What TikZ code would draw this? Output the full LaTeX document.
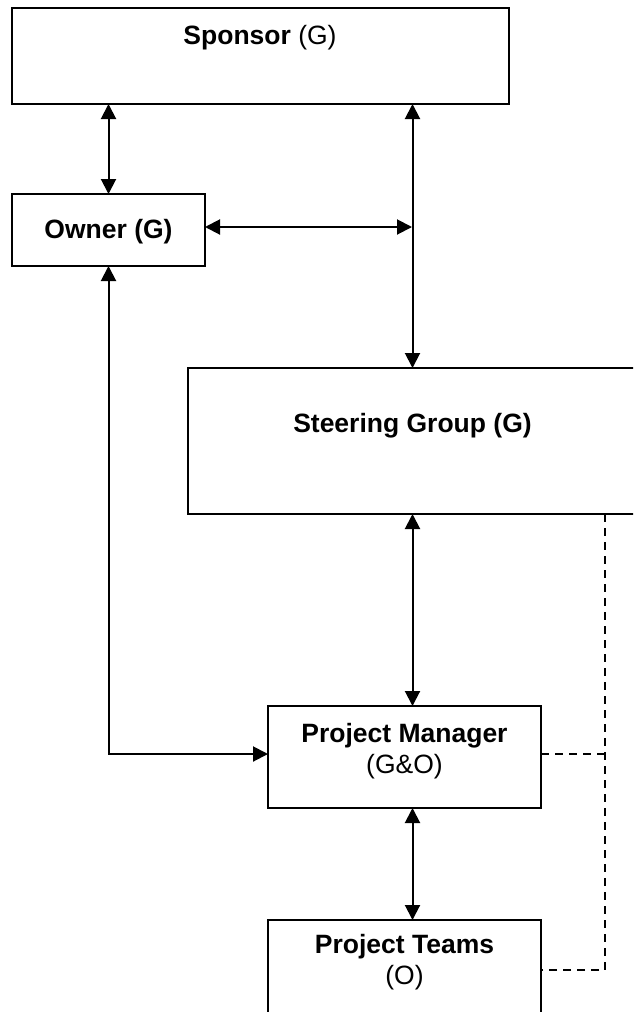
\documentclass[tikz,border=0pt]{standalone}
\usepackage{fontspec}
\setmainfont{Liberation Sans}
\usetikzlibrary{arrows.meta}
\begin{document}
\begin{tikzpicture}[x=1pt,y=-1pt,
  box/.style={draw, line width=2.2pt, inner sep=0pt, outer sep=0pt, anchor=north west},
  lbl/.style={font=\fontsize{26.5}{31}\selectfont, anchor=base, inner sep=0pt},
  tip/.tip={Triangle[length=15pt,width=15pt]},
  dbl/.style={line width=2pt, tip-tip},
  dsh/.style={line width=1.7pt, dash pattern=on 8pt off 6pt}]
\useasboundingbox (0,0) rectangle (633,1012);
\clip (0,0) rectangle (633,1012);

% boxes
\node[box, minimum width=497pt, minimum height=96pt] (sp) at (12,8) {};
\node[box, minimum width=193pt, minimum height=72pt] (ow) at (12,194) {};
\node[box, minimum width=470pt, minimum height=146pt] (sg) at (188,368) {};
\node[box, minimum width=273pt, minimum height=102pt] (pm) at (268,706) {};
\node[box, minimum width=273pt, minimum height=120pt] (pt) at (268,920) {};

% texts
\node[lbl] (spT) at (260,44) {\textbf{Sponsor} (G)};
\node[lbl] (owT) at (108.5,238) {\textbf{Owner (G)}};
\node[lbl] (sgT) at (412.5,432) {\textbf{Steering Group (G)}};
\node[lbl] (pmT1) at (404.5,742) {\textbf{Project Manager}};
\node[lbl] (pmT2) at (404.5,773) {(G\&O)};
\node[lbl] (ptT1) at (404.5,953) {\textbf{Project Teams}};
\node[lbl] (ptT2) at (404.5,984) {(O)};

% connector points
\coordinate (vx) at (412,227);
\coordinate (pmL) at (268,754);
\coordinate (pmR) at (541,754);
\coordinate (ptR) at (541,970);
\coordinate (dx) at (605,514);

% solid connectors
\draw[dbl] (ow.north |- sp.south) -- (ow.north);
\draw[dbl] (sgT.base |- sp.south) -- (sgT.base |- sg.north);
\draw[dbl] (ow.east |- vx) -- (vx);
\draw[dbl] (sgT.base |- sg.south) -- (sgT.base |- pm.north);
\draw[dbl] (sgT.base |- pm.south) -- (sgT.base |- pt.north);
\draw[dbl] (ow.south) |- (pmL);

% dashed connectors
\draw[dsh] (dx) -- (dx |- ptR) -- (ptR);
\draw[dsh] (pmR) -- (dx |- pmR);
\end{tikzpicture}
\end{document}
